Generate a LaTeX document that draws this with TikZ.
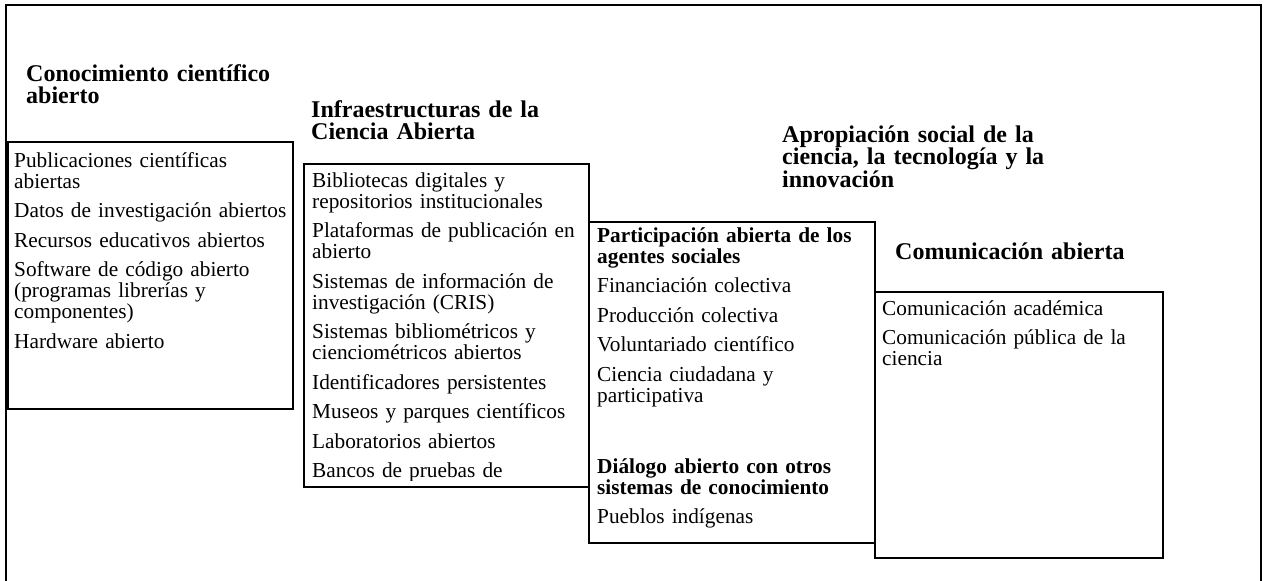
\documentclass[tikz,border=0pt]{standalone}
\usepackage{fontspec}
\setmainfont{Liberation Serif}
\tikzstyle{caja} = [draw, line width=1.8pt, inner sep=0pt, anchor=north west]
\tikzstyle{titulo} = [anchor=base west, inner sep=0pt, align=left, text width=320pt, font={\bfseries\fontsize{24}{22.5}\selectfont\lineskiplimit=-50pt}]
\tikzstyle{lista} = [anchor=base west, inner sep=0pt, align=left, text width=300pt, font={\fontsize{21.3}{21}\selectfont\lineskiplimit=-50pt}]

\begin{document}
\begin{tikzpicture}[x=1pt,y=-1pt]
				\useasboundingbox (0,0) rectangle (1267,581);
				\draw[line width=1.5pt] (6,581) -- (6,5) -- (1261,5) -- (1261,581);
				\node[caja, minimum width=285pt, minimum height=267pt] (conocimiento) at (7,141) {};
				\node[caja, minimum width=285pt, minimum height=323pt] (infra) at (303,163) {};
				\node[caja, minimum width=286pt, minimum height=321pt] (apropiacion) at (588,221) {};
				\node[caja, minimum width=288pt, minimum height=266pt] (comunicacion) at (874,291) {};
				\node[titulo] (tituloConocimiento) at (26,81) {Conocimiento científico\\abierto};
				\node[titulo] (tituloInfra) at (311,117) {Infraestructuras de la\\Ciencia Abierta};
				\node[titulo] (tituloApropiacion) at (782,142) {Apropiación social de la\\ciencia, la tecnología y la\\innovación};
				\node[titulo] (tituloComunicacion) at (895,259) {Comunicación abierta};
				\node[lista] (listaConocimiento) at (14,167) {Publicaciones científicas\\abiertas\\[8.5pt]Datos de investigación abiertos\\[8.5pt]Recursos educativos abiertos\\[8.5pt]Software de código abierto\\(programas librerías y\\componentes)\\[8.5pt]Hardware abierto};
				\begin{scope}
					\clip (303,163) rectangle (588,480);
					\node[lista] (listaInfra) at (312,187) {Bibliotecas digitales y\\repositorios institucionales\\[8.5pt]Plataformas de publicación en\\abierto\\[8.5pt]Sistemas de información de\\investigación (CRIS)\\[8.5pt]Sistemas bibliométricos y\\cienciométricos abiertos\\[8.5pt]Identificadores persistentes\\[8.5pt]Museos y parques científicos\\[8.5pt]Laboratorios abiertos\\[8.5pt]Bancos de pruebas de};
				\end{scope}
				\node[lista] (listaApropiacion) at (597,242) {\textbf{Participación abierta de los}\\\textbf{agentes sociales}\\[8.5pt]Financiación colectiva\\[8.5pt]Producción colectiva\\[8.5pt]Voluntariado científico\\[8.5pt]Ciencia ciudadana y\\participativa\\[50pt]\textbf{Diálogo abierto con otros}\\\textbf{sistemas de conocimiento}\\[8.5pt]Pueblos indígenas};
				\node[lista] (listaComunicacion) at (882,315) {Comunicación académica\\[8.5pt]Comunicación pública de la\\ciencia};
			\end{tikzpicture}
\end{document}
